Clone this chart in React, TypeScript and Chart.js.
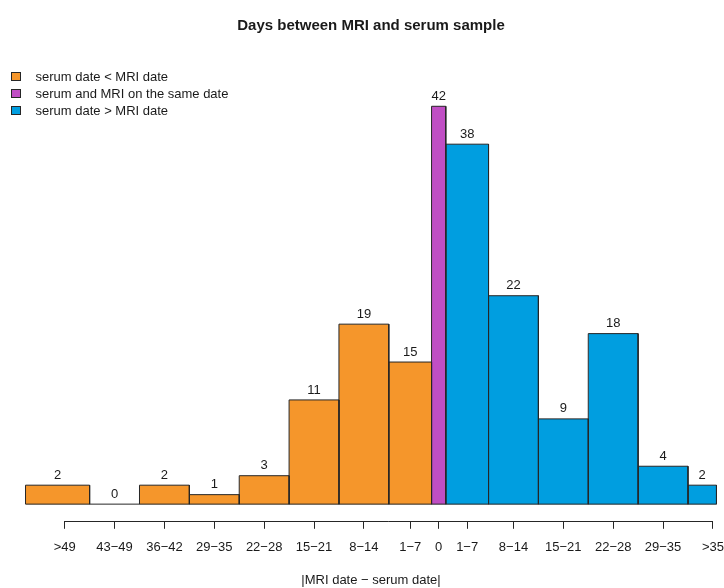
import React, { useEffect, useRef } from "react";
import { Chart, registerables } from "chart.js";
Chart.register(...registerables);

// ---- data ----
const categories = [">49", "43−49", "36−42", "29−35", "22−28", "15−21", "8−14", "1−7", "0", "1−7", "8−14", "15−21", "22−28", "29−35", ">35"];
const counts = [2, 0, 2, 1, 3, 11, 19, 15, 42, 38, 22, 9, 18, 4, 2];
// signed day edges of each bin (negative: serum before MRI)
const binStart = [-58, -49, -42, -35, -28, -21, -14, -7, -1, 1, 7, 14, 21, 28, 35];
const binEnd = [-49, -42, -35, -28, -21, -14, -7, -1, 1, 7, 14, 21, 28, 35, 39];
const groupOf = [0, 0, 0, 0, 0, 0, 0, 0, 1, 2, 2, 2, 2, 2, 2];
const groupNames = ["serum date < MRI date", "serum and MRI on the same date", "serum date > MRI date"];
const tickValues = [-52.5, -45.5, -38.5, -31.5, -24.5, -17.5, -10.5, -4, 0, 4, 10.5, 17.5, 24.5, 31.5, 38.5];
const tickLabels = [">49", "43−49", "36−42", "29−35", "22−28", "15−21", "8−14", "1−7", "0", "1−7", "8−14", "15−21", "22−28", "29−35", ">35"];

// ---- styles ----
const groupColors = ["#F5962B", "#C04EC4", "#009EE0"];
const edgeColor = "#262626";
const textColor = "#1a1a1a";
const FAMILY = "'Liberation Sans', Arial, Helvetica, sans-serif";
const X_MIN = -60.6;
const X_MAX = 41.6;
const Y_MIN = -1.76;
const Y_MAX = 46.2;

const annotatePlugin = {
  id: "annotate",
  afterDatasetsDraw(chart: any) {
    const { ctx, scales, chartArea } = chart;
    const x = scales.x;
    const y = scales.y;
    ctx.save();
    // axis line between first and last tick (R style)
    const ay = Math.round(chartArea.bottom) + 0.5;
    ctx.strokeStyle = edgeColor;
    ctx.lineWidth = 1;
    ctx.beginPath();
    ctx.moveTo(x.getPixelForValue(tickValues[0]), ay);
    ctx.lineTo(x.getPixelForValue(tickValues[tickValues.length - 1]), ay);
    ctx.stroke();
    // value labels above bars
    ctx.fillStyle = textColor;
    ctx.font = `13px ${FAMILY}`;
    ctx.textAlign = "center";
    ctx.textBaseline = "middle";
    counts.forEach((c, i) => {
      const px = x.getPixelForValue((binStart[i] + binEnd[i]) / 2);
      const py = y.getPixelForValue(c) - 10;
      ctx.fillText(String(c), px, py);
    });
    ctx.restore();
  },
};

export default function App() {
  const ref = useRef<HTMLCanvasElement>(null);
  useEffect(() => {
    const swatches = groupColors.map((c) => {
      const cv = document.createElement("canvas");
      cv.width = 18;
      cv.height = 10;
      const g = cv.getContext("2d")!;
      g.fillStyle = c;
      g.fillRect(0.5, 0.5, 9, 8);
      g.strokeStyle = edgeColor;
      g.lineWidth = 1;
      g.strokeRect(0.5, 0.5, 9, 8);
      return cv;
    });

    const barSets = counts.map((c, i) => ({
      type: "line",
      label: categories[i],
      data:
        c > 0
          ? [
              { x: binStart[i], y: 0 },
              { x: binStart[i], y: c },
              { x: binEnd[i], y: c },
              { x: binEnd[i], y: 0 },
            ]
          : [],
      borderColor: edgeColor,
      borderWidth: 1,
      backgroundColor: groupColors[groupOf[i]],
      fill: "origin",
      pointRadius: 0,
      tension: 0,
      borderJoinStyle: "miter",
    }));
    const baseSet = {
      type: "line",
      label: "base",
      order: -1,
      data: [
        { x: binStart[0], y: 0 },
        { x: binEnd[binEnd.length - 1], y: 0 },
      ],
      borderColor: edgeColor,
      borderWidth: 1,
      fill: false,
      pointRadius: 0,
    };

    Chart.defaults.font.family = FAMILY;
    const chart = new Chart(ref.current!, {
      type: "line",
      data: { datasets: [...barSets, baseSet] as any },
      options: {
        responsive: false,
        animation: false,
        devicePixelRatio: 1,
        layout: { padding: { left: 7, right: 7, top: 0, bottom: 0 } },
        plugins: {
          title: {
            display: true,
            text: "Days between MRI and serum sample",
            color: textColor,
            font: { size: 15, weight: "bold", family: FAMILY },
            padding: { top: 16.5, bottom: 32 },
          },
          legend: {
            position: "chartArea" as any,
            align: "start",
            title: {
              display: true,
              text: "",
              font: { size: 10, family: FAMILY },
              padding: { top: 54.5, bottom: 0 },
            },
            labels: {
              usePointStyle: true,
              pointStyleWidth: 18,
              boxHeight: 10,
              padding: 4,
              color: textColor,
              font: { size: 13, family: FAMILY },
              generateLabels: () =>
                groupNames.map((n, g) => ({
                  text: n,
                  fillStyle: groupColors[g],
                  strokeStyle: edgeColor,
                  fontColor: textColor,
                  lineWidth: 1,
                  pointStyle: swatches[g] as any,
                  hidden: false,
                  datasetIndex: g,
                })),
            },
          },
          tooltip: { enabled: false },
        },
        scales: {
          x: {
            type: "linear",
            min: X_MIN,
            max: X_MAX,
            afterBuildTicks: (s: any) => {
              s.ticks = tickValues.map((v) => ({ value: v }));
            },
            ticks: {
              autoSkip: false,
              maxRotation: 0,
              minRotation: 0,
              padding: 11,
              color: textColor,
              font: { size: 13, family: FAMILY },
              callback: (_v: any, i: number) => tickLabels[i],
            },
            grid: {
              display: true,
              drawOnChartArea: false,
              drawTicks: true,
              tickLength: 8,
              color: edgeColor,
              lineWidth: 1,
            },
            border: { display: false },
            title: {
              display: true,
              text: "|MRI date − serum date|",
              color: textColor,
              font: { size: 13, family: FAMILY },
              padding: { top: 6, bottom: 0 },
            },
          },
          y: { type: "linear", display: false, min: Y_MIN, max: Y_MAX },
        },
      } as any,
      plugins: [annotatePlugin],
    } as any);
    return () => chart.destroy();
  }, []);
  return (
    <div style={{ position: "fixed", left: 0, top: 0, width: 724, height: 588, overflow: "hidden", background: "#fff" }}>
      <canvas ref={ref} width={742} height={588} style={{ display: "block", width: 742, height: 588 }} />
    </div>
  );
}
